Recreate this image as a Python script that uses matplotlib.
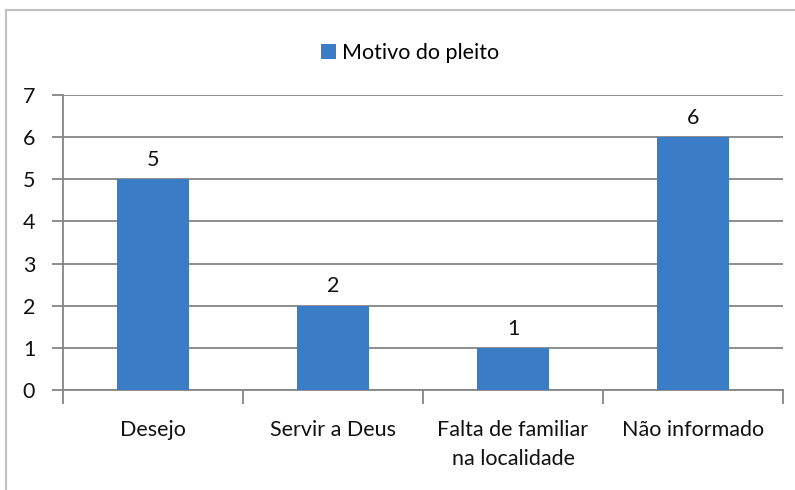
import matplotlib
matplotlib.use("Agg")
import matplotlib.pyplot as plt
from matplotlib.lines import Line2D
from matplotlib.patches import Patch

categories = ["Desejo", "Servir a Deus", "Falta de familiar\nna localidade", "Não informado"]
values = [5, 2, 1, 6]
series_name = "Motivo do pleito"
yticks = [0, 1, 2, 3, 4, 5, 6, 7]

W, H = 795, 490
plt.rcParams['font.family'] = ['Lato', 'DejaVu Sans']
fig = plt.figure(figsize=(W/100, H/100), dpi=100)
fig.patch.set_facecolor("white")

FS = 15.5
ax = fig.add_axes([63/W, 1-390/H, (783-63)/W, (390-95)/H])
color = "#3a7dc6"
x = list(range(len(categories)))
bars = ax.bar(x, values, width=0.4, color=color, zorder=3)
for xi, v in zip(x, values):
    ax.text(xi, v + 0.22, str(v), ha="center", va="bottom", fontsize=FS, color="#111111")

ax.set_xlim(-0.5, len(categories) - 0.5)
ax.set_ylim(0, 7)
ax.set_yticks(yticks)
ax.set_yticklabels([str(t) for t in yticks], fontsize=FS, color="#111111")
ax.yaxis.grid(True, color="#858585", linewidth=1.3, zorder=0)
ax.set_axisbelow(True)

# category labels at centers, ticks at boundaries
ax.set_xticks([i - 0.5 for i in range(len(categories) + 1)])
ax.set_xticklabels([])
ax.tick_params(axis="x", length=10, color="#858585", width=1.3, direction="out")
ax.tick_params(axis="y", length=8, color="#858585", width=1.3, direction="out", pad=12)
for xi, lab in zip(x, categories):
    ax.text(xi, -0.7, lab, ha="center", va="top", fontsize=FS, color="#111111",
            linespacing=1.6, transform=ax.transData)

for s in ["top", "right"]:
    ax.spines[s].set_visible(False)
for s in ["left", "bottom"]:
    ax.spines[s].set_color("#858585")
    ax.spines[s].set_linewidth(1.3)

fig.legend(handles=[Patch(facecolor=color, label=series_name)], loc="center",
           bbox_to_anchor=(410/W, 1-53/H), frameon=False, fontsize=FS,
           handlelength=0.7, handleheight=0.7, handletextpad=0.3)

# outer frame (top and left visible)
fig.add_artist(Line2D([6/W, 1], [1-10/H, 1-10/H], transform=fig.transFigure, color="#c0c0c0", linewidth=1.5))
fig.add_artist(Line2D([6/W, 6/W], [0, 1-10/H], transform=fig.transFigure, color="#c0c0c0", linewidth=1.5))

fig.savefig("out.png", dpi=100, facecolor="white")
